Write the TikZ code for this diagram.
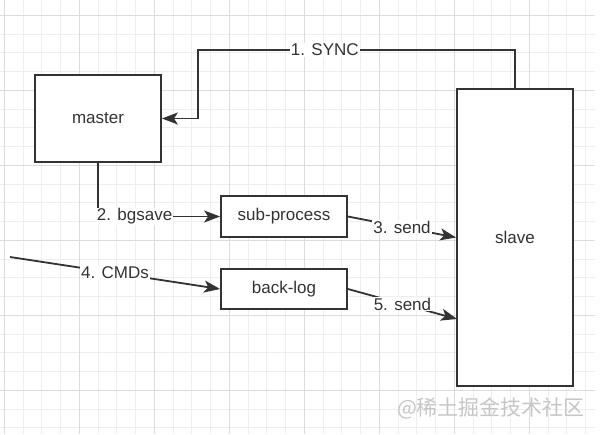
\documentclass[tikz,border=0pt]{standalone}
\usepackage{fontspec}
\setmainfont{Liberation Sans}
\newfontfamily\cjk{Noto Sans CJK SC}
\usetikzlibrary{arrows.meta}
\definecolor{ink}{HTML}{333333}
\definecolor{gridminor}{HTML}{EEEEEE}
\definecolor{gridmajor}{HTML}{DCDCDC}
\tikzset{
  box/.style={draw=ink,line width=1.8pt,fill=white,minimum width=126pt,minimum height=41pt,inner sep=0pt,text=ink,font=\fontsize{17}{20}\selectfont},
  conn/.style={draw=ink,line width=1.8pt,-{Stealth[length=16pt,width=12pt,inset=4pt]}},
  lbl/.style={fill=white,text=ink,inner sep=1pt,font=\fontsize{17}{20}\selectfont}
}
\begin{document}
\begin{tikzpicture}[x=1pt,y=-1pt]
\useasboundingbox (0,0) rectangle (607,434);
\fill[white] (0,0) rectangle (607,434);
\foreach \i in {0,...,31} \draw[gridminor] ({4+18.75*\i},0) -- ({4+18.75*\i},434);
\foreach \j in {0,...,22} \draw[gridminor] (0,{15+18.75*\j}) -- (595,{15+18.75*\j});
\foreach \i in {0,...,7} \draw[gridmajor] ({4+75*\i},0) -- ({4+75*\i},434);
\foreach \j in {0,...,5} \draw[gridmajor] (0,{15+75*\j}) -- (595,{15+75*\j});
\node[box,minimum height=87pt] (master) at (98,118.5) {master};
\node[box,minimum width=116pt,minimum height=297pt] (slave) at (515,237.5) {slave};
\node[box] (subproc) at (284,216.5) {sub-process};
\node[box,minimum height=40pt] (backlog) at (284,289) {back-log};
\coordinate (cmdsrc) at (10,257);
\coordinate (send5) at (457,319);
\draw[conn] (slave.north) -- ++(0,-38) -- node[lbl,pos=0.6]{1. SYNC} ++(-317,0) |- (master.east);
\draw[conn] (master.south) |- node[lbl,pos=0.65]{2. bgsave} (subproc.west);
\draw[conn] (subproc.east) -- node[lbl]{3. send} (slave.west);
\draw[conn] (cmdsrc) -- node[lbl]{4. CMDs} (backlog.west);
\draw[conn] (backlog.east) -- node[lbl]{5. send} (send5);
\node[text=gray!45,font=\cjk\fontsize{21}{24}\selectfont] (mark) at (491,408) {@稀土掘金技术社区};
\end{tikzpicture}
\end{document}
